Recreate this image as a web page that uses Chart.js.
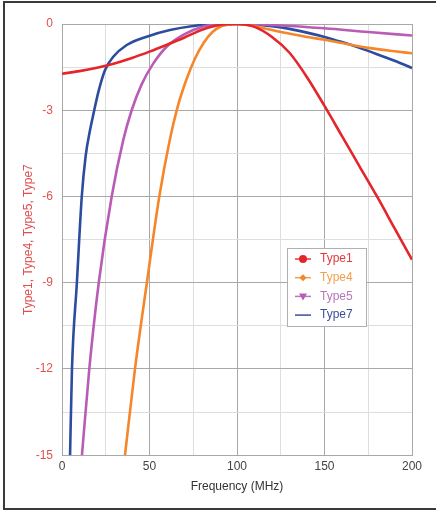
<!DOCTYPE html>
<html>
<head>
<meta charset="utf-8">
<script src="https://cdn.jsdelivr.net/npm/chart.js@4"></script>
<style>
  html, body { margin: 0; padding: 0; background: #fff; }
  #wrap { position: relative; width: 436px; height: 512px; overflow: hidden; }
  #frame {
    position: absolute; left: 3px; top: 1px; width: 440px; height: 509px;
    border: 2px solid #3a3a3a; box-sizing: border-box;
  }
  canvas { position: absolute; left: 0; top: 0; }
</style>
</head>
<body>
<div id="wrap">
  <div id="frame"></div>
  <canvas id="chart" width="436" height="512"></canvas>
</div>
<script>
// values (frequency in MHz, response in dB)
const seriesNames = ["Type1", "Type4", "Type5", "Type7"]

const type1Freq = [0, 10, 20, 30, 40, 50, 60, 70, 80, 90, 100, 110, 120, 130, 140, 150, 160, 170, 180, 190, 200]
const type1Loss = [-1.73, -1.64, -1.52, -1.37, -1.18, -0.96, -0.72, -0.47, -0.2, -0.03, 0, -0.1, -0.45, -1.0, -1.85, -2.85, -3.9, -4.95, -6.0, -7.1, -8.2]

const type4Freq = [36, 41.7, 48.5, 55.6, 61.7, 66, 71, 76, 81, 86, 91, 95, 100, 110, 125, 140, 150, 165, 175, 190, 200]
const type4Loss = [-15, -12, -9, -6, -4.0, -2.9, -1.95, -1.2, -0.65, -0.28, -0.08, -0.02, 0, -0.08, -0.28, -0.45, -0.55, -0.72, -0.83, -0.95, -1.02]

const type5Freq = [11.4, 15.6, 21, 28.4, 35, 39.8, 45.5, 52.2, 59.8, 69.3, 80.7, 90, 100, 125, 150, 175, 200]
const type5Loss = [-15, -12, -9, -6, -4.04, -3, -2.1, -1.37, -0.79, -0.38, -0.09, -0.01, 0, -0.05, -0.15, -0.28, -0.4]

const type7Freq = [4.6, 5.7, 8.5, 11.3, 13.5, 16, 17.9, 20.8, 24.6, 29.3, 37, 48.4, 61.7, 75, 88, 100, 110, 120, 130, 140, 150, 160, 170, 180, 190, 200]
const type7Loss = [-15, -12, -9, -6, -4.6, -3.7, -3.15, -2.36, -1.6, -1.14, -0.73, -0.44, -0.21, -0.07, 0, 0, -0.02, -0.08, -0.17, -0.3, -0.45, -0.63, -0.83, -1.05, -1.28, -1.53]

const lineColors = ["#e4262b", "#f5862a", "#b95cb6", "#2b4c9f"]
const textColors = ["#e23a3a", "#f2a050", "#b878b8", "#3c4f98"]
const markers = ["circle", "diamond", "triangle", "none"]

const xTicks = [0, 50, 100, 150, 200]
const yTicks = [0, -3, -6, -9, -12, -15]

function toPoints(xs, ys) {
  return xs.map((x, i) => ({ x, y: ys[i] }))
}

const allFreq = [type1Freq, type4Freq, type5Freq, type7Freq]
const allLoss = [type1Loss, type4Loss, type5Loss, type7Loss]

const datasets = seriesNames.map((name, i) => ({
  label: name,
  data: toPoints(allFreq[i], allLoss[i]),
  borderColor: lineColors[i],
  backgroundColor: lineColors[i],
  borderWidth: 2.6,
  pointRadius: 0,
  cubicInterpolationMode: "monotone",
  fill: false,
}))

// legend box drawn inside the plot, like the original
const boxLegend = {
  id: "boxLegend",
  afterDatasetsDraw(chart) {
    const ctx = chart.ctx
    const left = 287, top = 248, w = 79, h = 78
    ctx.save()
    ctx.fillStyle = "#ffffff"
    ctx.fillRect(left, top, w, h)
    ctx.strokeStyle = "#b0b0b0"
    ctx.lineWidth = 1
    ctx.strokeRect(left + 0.5, top + 0.5, w, h)
    ctx.font = "12px 'Liberation Sans', Arial, sans-serif"
    ctx.textBaseline = "middle"
    chart.data.datasets.forEach((ds, i) => {
      const y = top + 11 + i * 18.7
      const cx = 303
      ctx.strokeStyle = textColors[i]
      ctx.lineWidth = 1.5
      ctx.beginPath()
      ctx.moveTo(cx - 8, y)
      ctx.lineTo(cx + 8, y)
      ctx.stroke()
      ctx.fillStyle = lineColors[i]
      ctx.beginPath()
      if (markers[i] === "circle") {
        ctx.arc(cx, y, 4, 0, Math.PI * 2)
      } else if (markers[i] === "diamond") {
        ctx.moveTo(cx, y - 3.5); ctx.lineTo(cx + 3.5, y); ctx.lineTo(cx, y + 3.5); ctx.lineTo(cx - 3.5, y)
      } else if (markers[i] === "triangle") {
        ctx.moveTo(cx - 4, y - 3); ctx.lineTo(cx + 4, y - 3); ctx.lineTo(cx, y + 4)
      }
      ctx.closePath()
      if (markers[i] !== "none") ctx.fill()
      ctx.fillStyle = textColors[i]
      ctx.textAlign = "left"
      ctx.fillText(ds.label, 320, y)
    })
    ctx.restore()
  },
}

new Chart(document.getElementById("chart"), {
  type: "line",
  data: { datasets },
  options: {
    responsive: false,
    animation: false,
    layout: { padding: { left: 4, right: 24, top: 24, bottom: 14 } },
    plugins: { legend: { display: false }, tooltip: { enabled: false } },
    scales: {
      x: {
        type: "linear",
        min: 0,
        max: 200,
        ticks: {
          stepSize: 25,
          color: "#444",
          font: { size: 12, family: "'Liberation Sans', Arial, sans-serif" },
          padding: 4,
          maxRotation: 0,
          callback: (v) => (xTicks.includes(v) ? v : ""),
        },
        grid: {
          color: (c) => (c.tick && c.tick.value % 50 === 0 ? "#a8a8a8" : "#dedede"),
          lineWidth: 1,
          drawTicks: false,
        },
        border: { color: "#a8a8a8" },
        title: {
          display: true,
          text: "Frequency (MHz)",
          color: "#333",
          font: { size: 12, family: "'Liberation Sans', Arial, sans-serif" },
          padding: { top: 2 },
        },
      },
      y: {
        min: -15,
        max: 0,
        afterFit: (scale) => { scale.width = 58 },
        ticks: {
          stepSize: 1.5,
          color: "#e05050",
          font: { size: 12, family: "'Liberation Sans', Arial, sans-serif" },
          padding: 9,
          callback: (v) => (yTicks.includes(v) ? v : ""),
        },
        grid: {
          color: (c) => (c.tick && Math.abs(c.tick.value % 3) < 1e-6 ? "#a8a8a8" : "#dedede"),
          lineWidth: 1,
          drawTicks: false,
        },
        border: { color: "#a8a8a8" },
        title: {
          display: true,
          text: "Type1, Type4, Type5, Type7",
          color: "#e05050",
          font: { size: 12, family: "'Liberation Sans', Arial, sans-serif" },
          padding: { top: 17, bottom: 0 },
        },
      },
    },
  },
  plugins: [boxLegend],
})
</script>
</body>
</html>
